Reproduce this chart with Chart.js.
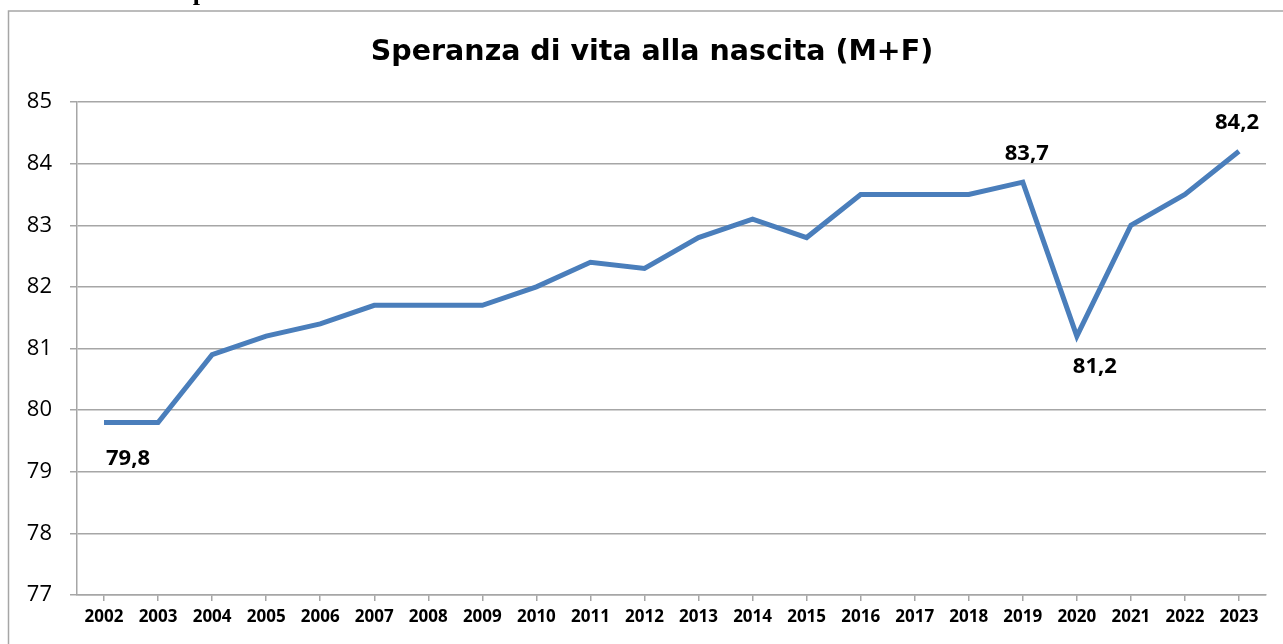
<!DOCTYPE html>
<html>
<head>
<meta charset="utf-8">
<script src="https://cdn.jsdelivr.net/npm/chart.js@4.4.1/dist/chart.umd.min.js"></script>
<style>
  html, body { margin: 0; padding: 0; background: #fff; overflow: hidden; }
  canvas { display: block; }
</style>
</head>
<body>
<canvas id="myChart" width="1283" height="644"></canvas>
<script>
const years = ['2002', '2003', '2004', '2005', '2006', '2007', '2008', '2009', '2010', '2011', '2012',
    '2013', '2014', '2015', '2016', '2017', '2018', '2019', '2020', '2021', '2022', '2023']
const speranza = [79.8, 79.8, 80.9, 81.2, 81.4, 81.7, 81.7, 81.7, 82.0, 82.4, 82.3,
    82.8, 83.1, 82.8, 83.5, 83.5, 83.5, 83.7, 81.2, 83.0, 83.5, 84.2]
const yTicks = [77, 78, 79, 80, 81, 82, 83, 84, 85]
// which points get a value label, and where (dx, dy from the point)
const labelled = [0, 17, 18, 21]
const labelOffsets = [[24, 36], [4, -28], [18, 31], [-2, -29]]

const FONT = '"Open Sans", sans-serif'
const TITLE_FONT = '"DejaVu Sans", Verdana, sans-serif'

// outer frame, title and the cut-off letter above the chart
const framePlugin = {
    id: 'frame',
    beforeDraw(chart) {
        const ctx = chart.ctx
        ctx.save()
        ctx.fillStyle = '#fff'
        ctx.fillRect(0, 0, chart.width, chart.height)
        ctx.strokeStyle = '#a6a6a6'
        ctx.lineWidth = 1.5
        ctx.strokeRect(8.5, 11, chart.width + 20, chart.height + 20)
        ctx.fillStyle = '#000'
        ctx.font = 'bold 26px "Liberation Serif", serif'
        ctx.textAlign = 'center'
        ctx.textBaseline = 'alphabetic'
        ctx.fillText('p', 200, 0)
        ctx.restore()
    },
    afterDraw(chart) {
        const ctx = chart.ctx
        ctx.save()
        ctx.fillStyle = '#000'
        ctx.textAlign = 'center'
        ctx.textBaseline = 'middle'
        const title = 'Speranza di vita alla nascita (M+F)'
        ctx.font = 'bold 26px ' + TITLE_FONT
        const w = ctx.measureText(title).width
        ctx.font = 'bold ' + (26 * 562 / w).toFixed(1) + 'px ' + TITLE_FONT
        ctx.fillText(title, 652, 53)

        const meta = chart.getDatasetMeta(0)
        ctx.font = 'bold 22px ' + FONT
        labelled.forEach(function(i, k) {
            const pt = meta.data[i]
            const txt = speranza[i].toFixed(1).replace('.', ',')
            ctx.fillText(txt, pt.x + labelOffsets[k][0], pt.y + labelOffsets[k][1])
        })
        ctx.restore()
    }
}

const config = {
    type: 'line',
    data: {
        labels: years,
        datasets: [{
            label: 'Speranza di vita alla nascita (M+F)',
            data: speranza,
            borderColor: '#4a7ebb',
            borderWidth: 5,
            pointRadius: 0,
            tension: 0,
            fill: false
        }]
    },
    options: {
        responsive: false,
        animation: false,
        layout: {
            padding: { left: 8, right: 17, top: 102, bottom: 4 }
        },
        plugins: {
            legend: { display: false },
            title: { display: false },
            tooltip: { enabled: false }
        },
        scales: {
            x: {
                offset: true,
                grid: {
                    display: true,
                    drawOnChartArea: false,
                    drawTicks: true,
                    tickLength: 6,
                    color: '#a6a6a6',
                    lineWidth: 1.5
                },
                border: { color: '#a6a6a6', width: 1.5 },
                ticks: {
                    color: '#000',
                    font: { family: FONT, size: 17, weight: 'bold' },
                    padding: 6,
                    maxRotation: 0,
                    autoSkip: false
                },
                afterFit(scale) { scale.height = 45 }
            },
            y: {
                min: 77,
                max: 85,
                afterBuildTicks(scale) {
                    scale.ticks = yTicks.map(function(v) { return { value: v } })
                },
                grid: {
                    color: '#a6a6a6',
                    lineWidth: 1.5,
                    tickLength: 7
                },
                border: { color: '#a6a6a6', width: 1.5 },
                ticks: {
                    color: '#000',
                    font: { family: FONT, size: 22 },
                    padding: 18
                },
                afterFit(scale) { scale.width = 69 }
            }
        }
    },
    plugins: [framePlugin]
}

let myChart = new Chart(document.getElementById('myChart'), config)
</script>
</body>
</html>
